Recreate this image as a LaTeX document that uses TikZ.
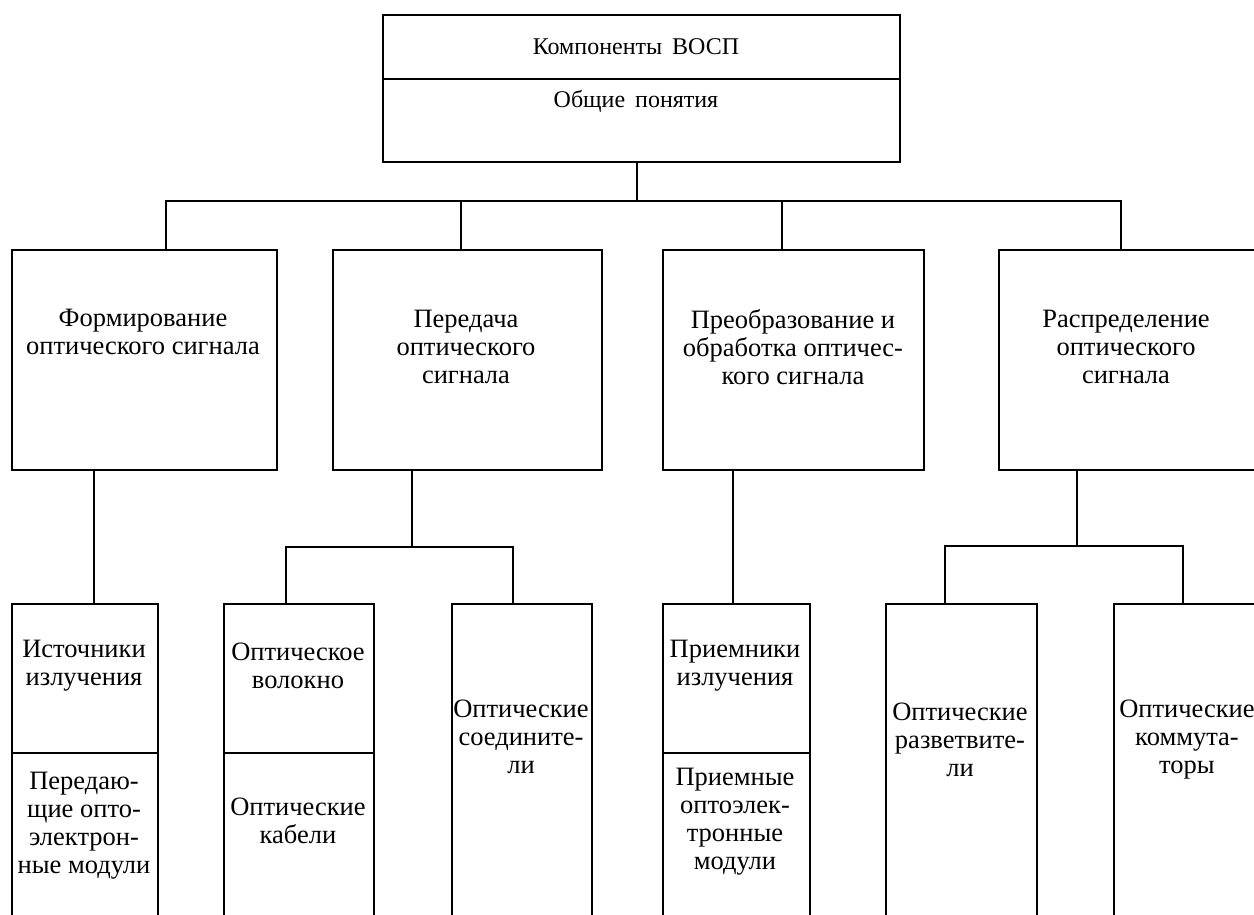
\documentclass[tikz,border=0pt]{standalone}
\usepackage{fontspec}
\setmainfont{Liberation Serif}
\begin{document}
\begin{tikzpicture}[x=1pt,y=-1pt,
  box/.style={draw=black,line width=1.6pt,rectangle,inner sep=0pt,anchor=north west},
  txt/.style={align=center,inner sep=0pt,font=\fontsize{26.5}{28}\selectfont},
  toptxt/.style={align=center,inner sep=0pt,font=\fontsize{24}{28}\selectfont},
  wire/.style={line width=1.6pt,line cap=rect}]
\useasboundingbox (0,0) rectangle (1254,914);
\clip (0,0) rectangle (1254,914);
% top box
\node[box,minimum width=517pt,minimum height=64pt] (topA) at (382,14) {};
\node[box,minimum width=517pt,minimum height=83pt] (topB) at (382,78) {};
\node[toptxt] (tA) at (636,47) {Компоненты\hspace{10pt}ВОСП};
\node[toptxt] (tB) at (636,101) {Общие\hspace{10pt}понятия};
% second row
\node[box,minimum width=265pt,minimum height=220pt] (b1) at (11,249) {};
\node[box,minimum width=269pt,minimum height=220pt] (b2) at (332,249) {};
\node[box,minimum width=261pt,minimum height=220pt] (b3) at (662,249) {};
\node[box,minimum width=270pt,minimum height=220pt] (b4) at (998,249) {};
\node[txt] (t1) at (143,332) {Формирование\\оптического сигнала};
\node[txt] (t2) at (466,347) {Передача\\оптического\\сигнала};
\node[txt] (t3) at (793,347) {Преобразование и\\обработка оптичес-\\кого сигнала};
\node[txt] (t4) at (1126,347) {Распределение\\оптического\\сигнала};
% third row
\node[box,minimum width=146pt,minimum height=149pt] (c1a) at (11,603) {};
\node[box,minimum width=146pt,minimum height=180pt] (c1b) at (11,752) {};
\node[box,minimum width=150pt,minimum height=149pt] (c2a) at (223,603) {};
\node[box,minimum width=150pt,minimum height=180pt] (c2b) at (223,752) {};
\node[box,minimum width=140pt,minimum height=330pt] (c3) at (451,603) {};
\node[box,minimum width=147pt,minimum height=149pt] (c4a) at (662,603) {};
\node[box,minimum width=147pt,minimum height=180pt] (c4b) at (662,752) {};
\node[box,minimum width=151pt,minimum height=330pt] (c5) at (885,603) {};
\node[box,minimum width=160pt,minimum height=330pt] (c6) at (1113,603) {};
\node[txt] (s1a) at (84,666) {Источники\\излучения};
\node[txt] (s1b) at (84,826) {Передаю-\\щие опто-\\электрон-\\ные модули};
\node[txt] (s2a) at (298,666) {Оптическое\\волокно};
\node[txt] (s2b) at (298,821) {Оптические\\кабели};
\node[txt] (s3) at (521,737) {Оптические\\соедините-\\ли};
\node[txt] (s4a) at (735,666) {Приемники\\излучения};
\node[txt] (s4b) at (735,822) {Приемные\\оптоэлек-\\тронные\\модули};
\node[txt] (s5) at (960,740) {Оптические\\разветвите-\\ли};
\node[txt] (s6) at (1187,740) {Оптические\\коммута-\\торы};
% connectors
\coordinate (bus) at (637,201);
\draw[wire] (topB.south -| bus) -- (bus);
\draw[wire] (166,201) -- (1121,201);
\draw[wire] (166,201) -- (166,249 |- b1.north);
\draw[wire] (461,201) -- (461,249 |- b2.north);
\draw[wire] (782,201) -- (782,249 |- b3.north);
\draw[wire] (1121,201) -- (1121,249 |- b4.north);
\draw[wire] (b1.south -| 94,0) -- (94,0 |- c1a.north);
\draw[wire] (b2.south -| 412,0) -- (412,547);
\draw[wire] (286,547) -- (513,547);
\draw[wire] (286,547) -- (286,0 |- c2a.north);
\draw[wire] (513,547) -- (513,0 |- c3.north);
\draw[wire] (b3.south -| 733,0) -- (733,0 |- c4a.north);
\draw[wire] (b4.south -| 1077,0) -- (1077,546);
\draw[wire] (945,546) -- (1183,546);
\draw[wire] (945,546) -- (945,0 |- c5.north);
\draw[wire] (1183,546) -- (1183,0 |- c6.north);
\end{tikzpicture}
\end{document}
